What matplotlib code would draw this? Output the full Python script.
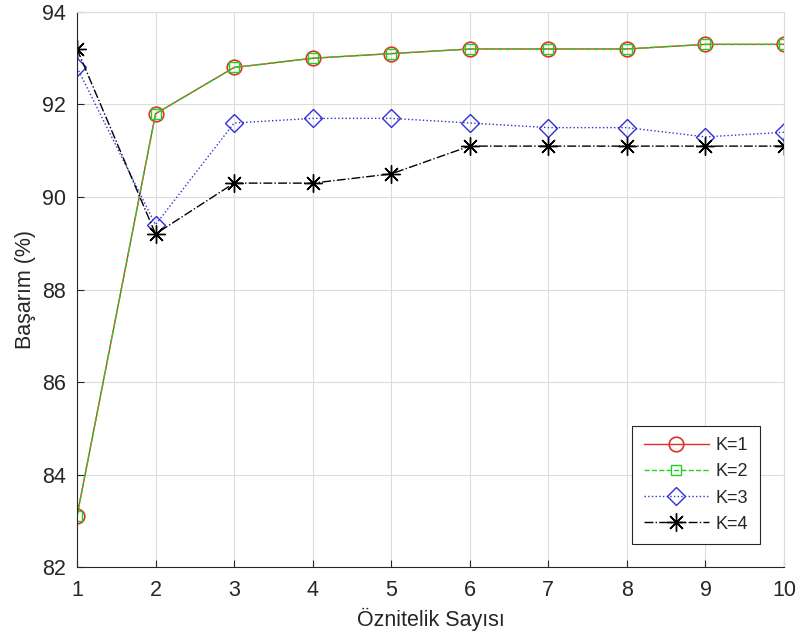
import matplotlib
matplotlib.use("Agg")
import matplotlib.pyplot as plt

plt.rcParams['font.family'] = ['Liberation Sans', 'DejaVu Sans']

# oznitelik sayisi
x = [1, 2, 3, 4, 5, 6, 7, 8, 9, 10]
k1 = [83.1, 91.8, 92.8, 93.0, 93.1, 93.2, 93.2, 93.2, 93.3, 93.3]
k2 = [83.1, 91.8, 92.8, 93.0, 93.1, 93.2, 93.2, 93.2, 93.3, 93.3]
k3 = [92.8, 89.4, 91.6, 91.7, 91.7, 91.6, 91.5, 91.5, 91.3, 91.4]
k4 = [93.2, 89.2, 90.3, 90.3, 90.5, 91.1, 91.1, 91.1, 91.1, 91.1]

txt = "#262626"
fig = plt.figure(figsize=(7.97, 6.41), dpi=100)
ax = fig.add_axes([0.0966, 0.1154, 0.8871, 0.8659])

ax.plot(x, k1, color="#e0302a", linestyle="-", marker="o", markersize=10.5,
        markerfacecolor="none", markeredgewidth=1.2, linewidth=1, label="K=1")
ax.plot(x, k2, color="#22d022", linestyle="--", marker="s", markersize=6.5,
        markerfacecolor="none", markeredgewidth=1, linewidth=1, label="K=2")
ax.plot(x, k3, color="#3030d8", linestyle=":", marker="D", markersize=9.5,
        markerfacecolor="none", markeredgewidth=1, linewidth=1, label="K=3")
ax.plot(x, k4, color="black", linestyle="-.", marker=(8, 2, 0), markersize=13,
        markeredgewidth=1, linewidth=1, label="K=4")

ax.set_xlim(1, 10)
ax.set_ylim(82, 94)
ax.set_xticks(x)
ax.set_yticks([82, 84, 86, 88, 90, 92, 94])
ax.grid(True, color="#dcdcdc", linewidth=0.8)
ax.set_axisbelow(True)
ax.spines['top'].set_color("#dcdcdc")
ax.spines['right'].set_color("#dcdcdc")
ax.spines['left'].set_color(txt)
ax.spines['bottom'].set_color(txt)
ax.tick_params(direction="in", length=5, labelsize=15.5, colors=txt)
ax.tick_params(axis="x", pad=9)
ax.tick_params(axis="y", pad=8)
ax.set_xlabel("Öznitelik Sayısı", fontsize=15.5, color=txt, labelpad=5)
ax.set_ylabel("Başarım (%)", fontsize=15.5, color=txt, labelpad=4)

leg = ax.legend(loc="lower right", bbox_to_anchor=(0.966, 0.041), borderaxespad=0,
                fontsize=13, handlelength=3.6, handletextpad=0.4, fancybox=False,
                framealpha=1, edgecolor="#262626", borderpad=0.65, labelspacing=0.5)
leg.get_frame().set_linewidth(0.8)
for t in leg.get_texts():
    t.set_color(txt)

plt.savefig("out.png", dpi=100)
